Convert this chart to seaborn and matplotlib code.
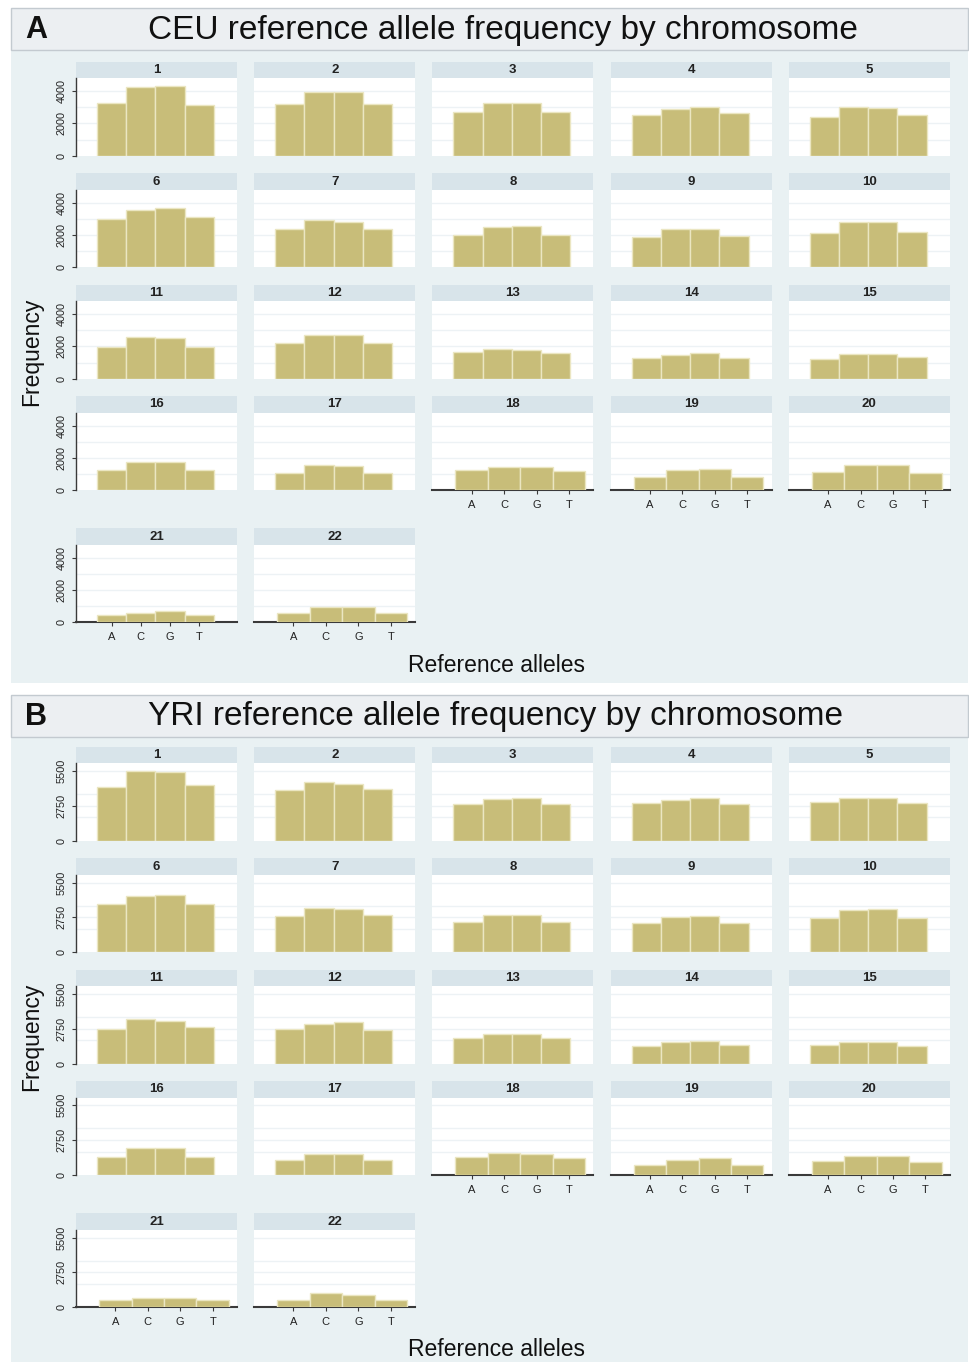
import numpy as np
import pandas as pd
import matplotlib
matplotlib.use("Agg")
import matplotlib.pyplot as plt
import seaborn as sns
from matplotlib.patches import Rectangle
from matplotlib import font_manager

# ---------------- data ----------------
alleles = ["A", "C", "G", "T"]
chromosomes = list(range(1, 23))

ceu_A = [3270, 3200, 2700, 2520, 2390, 2970, 2350, 2000, 1880, 2120,
         1950, 2190, 1660, 1270, 1210, 1210, 1030, 1210, 780, 1090, 450, 600]
ceu_C = [4240, 3950, 3270, 2870, 3020, 3560, 2920, 2470, 2350, 2780,
         2600, 2690, 1830, 1460, 1520, 1760, 1520, 1420, 1210, 1580, 600, 960]
ceu_G = [4330, 3950, 3270, 3020, 2930, 3650, 2840, 2550, 2350, 2840,
         2540, 2690, 1760, 1600, 1520, 1760, 1460, 1420, 1330, 1580, 680, 960]
ceu_T = [3140, 3200, 2700, 2640, 2520, 3090, 2350, 2000, 1940, 2180,
         1990, 2190, 1580, 1270, 1330, 1210, 1030, 1150, 780, 1030, 450, 600]

yri_A = [4200, 3960, 2920, 3000, 3080, 3780, 2830, 2380, 2300, 2700,
         2750, 2700, 2060, 1420, 1500, 1420, 1180, 1420, 750, 1070, 610, 610]
yri_C = [5530, 4620, 3320, 3240, 3400, 4420, 3490, 2910, 2750, 3300,
         3500, 3150, 2350, 1740, 1740, 2140, 1630, 1740, 1180, 1520, 770, 1100]
yri_G = [5450, 4490, 3400, 3350, 3400, 4520, 3410, 2910, 2860, 3410,
         3340, 3260, 2350, 1820, 1740, 2140, 1630, 1630, 1340, 1520, 770, 990]
yri_T = [4360, 4040, 2920, 2920, 3000, 3780, 2910, 2380, 2300, 2700,
         2860, 2620, 2060, 1500, 1420, 1420, 1180, 1340, 750, 990, 610, 610]

ceu_yticks = [0, 2000, 4000]
yri_yticks = [0, 2750, 5500]
ceu_grid = [1000, 2000, 3000, 4000]
yri_grid = [1833, 2750, 3667, 5500]

panel_letters = ["A", "B"]
panel_titles = ["CEU reference allele frequency by chromosome",
                "YRI reference allele frequency by chromosome"]
x_title = "Reference alleles"
y_title = "Frequency"


def long_table(a, c, g, t):
    rows = []
    for i, ch in enumerate(chromosomes):
        for al, vals in zip(alleles, (a, c, g, t)):
            rows.append({"chrom": ch, "allele": al, "count": vals[i]})
    return pd.DataFrame(rows)


ceu_df = long_table(ceu_A, ceu_C, ceu_G, ceu_T)
yri_df = long_table(yri_A, yri_C, yri_G, yri_T)

# ---------------- style ----------------
available = {f.name for f in font_manager.fontManager.ttflist}
main_font = "Liberation Sans" if "Liberation Sans" in available else "DejaVu Sans"
narrow_font = "Liberation Sans Narrow" if "Liberation Sans Narrow" in available else main_font
plt.rcParams["font.family"] = [main_font, "DejaVu Sans"]

bar_color = "#c8bd79"
bar_edge = "#ebe6c2"
region_color = "#e9f1f3"
strip_color = "#d8e4ea"
title_color = "#eceff2"
title_edge = "#c3cad0"
grid_color = "#edf2f5"
axis_color = "#3a3a3a"

W, H = 970, 1365
fig = plt.figure(figsize=(W / 100, H / 100), dpi=100)
fig.patch.set_facecolor("white")


def fx(x):
    return x / W


def fy(y):
    return 1 - y / H


def rect(x0, y0, x1, y1, fc, ec="none", lw=0.0, z=-5):
    fig.patches.append(Rectangle((fx(x0), fy(y1)), fx(x1) - fx(x0), fy(y0) - fy(y1),
                                 transform=fig.transFigure, facecolor=fc,
                                 edgecolor=ec, linewidth=lw, zorder=z))


col_x = [76, 254.2, 432.4, 610.6, 788.8]
col_w = 161
row_base = [155.7, 267.3, 378.7, 490.0, 622.3]
plot_h = 77.4
strip_h = 16.6

populations = [
    dict(df=ceu_df, yticks=ceu_yticks, grid=ceu_grid, ymax=4800,
         shifted=[18, 19, 20, 22], off=0, box=(8, 50, 683)),
    dict(df=yri_df, yticks=yri_yticks, grid=yri_grid, ymax=6100,
         shifted=[18, 19, 20, 21, 22], off=685, box=(695, 737, 1362)),
]

for p, pop in enumerate(populations):
    off = pop["off"]
    btop, tbot, bbot = pop["box"]
    rect(11, btop, 968, bbot, region_color, z=-6)
    rect(11, btop, 968, tbot, title_color, ec=title_edge, lw=1.0, z=-5)
    fig.text(fx(25), fy((btop + tbot) / 2 + 1), panel_letters[p], fontsize=22,
             fontweight="bold", ha="left", va="center", color="#111111")
    fig.text(fx(148), fy((btop + tbot) / 2 + 1), panel_titles[p], fontsize=24,
             ha="left", va="center", color="#111111")
    fig.text(fx(32), fy(352 + off), y_title, fontsize=16.5, rotation=90,
             ha="center", va="center", color="#111111")
    fig.text(fx(497), fy(665 + off), x_title, fontsize=16.5,
             ha="center", va="center", color="#111111")

    for k, ch in enumerate(chromosomes):
        r, c = divmod(k, 5)
        x0 = col_x[c]
        base = row_base[r] + off
        top = base - plot_h
        ax = fig.add_axes([fx(x0), fy(base), col_w / W, plot_h / H])
        ax.set_facecolor("white")
        rect(x0, top - strip_h, x0 + col_w, top, strip_color, z=-4)
        fig.text(fx(x0 + col_w / 2), fy(top - strip_h / 2), str(ch),
                 fontsize=9.5, family=[narrow_font, main_font], fontweight="bold",
                 ha="center", va="center", color="#222222")

        sub = pop["df"][pop["df"]["chrom"] == ch]
        sns.barplot(data=sub, x="allele", y="count", order=alleles, ax=ax,
                    color=bar_color, saturation=1, width=1.0, errorbar=None,
                    edgecolor=bar_edge, linewidth=1.0, zorder=3)
        for g in pop["grid"]:
            ax.axhline(g, color=grid_color, lw=1.0, zorder=1)
        ax.set_ylim(0, pop["ymax"])
        if ch in pop["shifted"]:
            ax.set_xlim(-1.21, 3.75)
        else:
            ax.set_xlim(-1.22, 4.29)
        ax.set_xlabel("")
        ax.set_ylabel("")
        for s in ax.spines.values():
            s.set_visible(False)

        ax.set_yticks(pop["yticks"])
        if c == 0:
            ax.spines["left"].set_visible(True)
            ax.spines["left"].set_color(axis_color)
            ax.spines["left"].set_linewidth(1.0)
            ax.tick_params(axis="y", length=3, width=0.8, color=axis_color,
                           labelsize=7.8, pad=4, labelcolor="#222222")
            for lab in ax.get_yticklabels():
                lab.set_rotation(90)
                lab.set_va("center")
        else:
            ax.tick_params(axis="y", left=False, labelleft=False)

        if ch >= 18:
            ax.spines["bottom"].set_visible(True)
            ax.spines["bottom"].set_color(axis_color)
            ax.spines["bottom"].set_linewidth(1.5)
            ax.tick_params(axis="x", length=3, width=0.8, color=axis_color,
                           labelsize=8, pad=4, labelcolor="#222222")
        else:
            ax.tick_params(axis="x", bottom=False, labelbottom=False)

fig.savefig("out.png", dpi=100, facecolor="white")
